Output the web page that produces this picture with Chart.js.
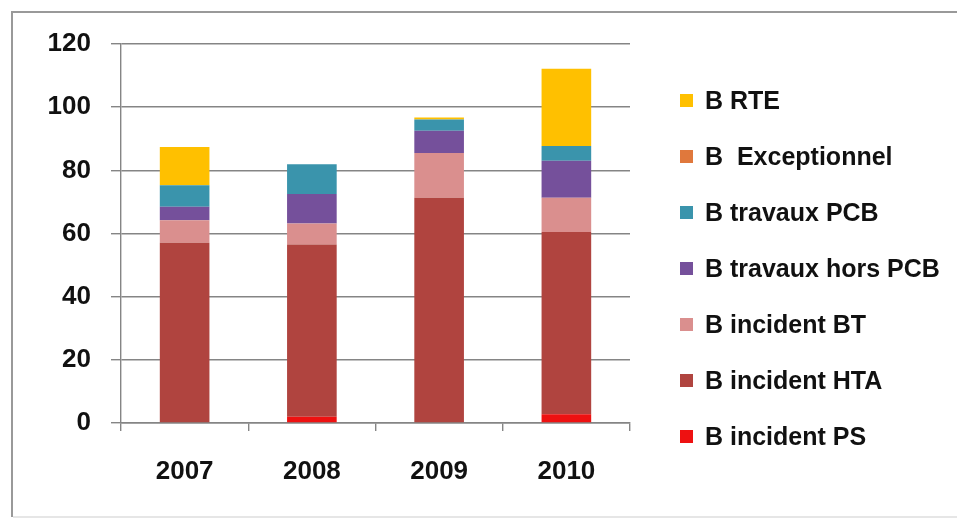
<!DOCTYPE html>
<html>
<head>
<meta charset="utf-8">
<script src="https://cdn.jsdelivr.net/npm/chart.js@4/dist/chart.umd.min.js"></script>
<style>
  html, body { margin: 0; padding: 0; background: #fff; overflow: hidden; }
  #wrap { position: relative; width: 957px; height: 519px; overflow: hidden; }
  #legend { position: absolute; left: 680px; top: 0; font-family: "Liberation Sans", Arial, sans-serif;
            font-size: 25px; font-weight: bold; color: #111; }
  .item { position: absolute; left: 0; white-space: pre; line-height: 30px; }
  .box { position: absolute; left: 0; top: 9px; width: 13px; height: 13px; }
  .lbl { position: absolute; left: 25px; top: 0; }
</style>
</head>
<body>
<div id="wrap">
  <canvas id="barChart" width="957" height="519"></canvas>
  <div id="legend"></div>
</div>
<script>
var annees = ['2007', '2008', '2009', '2010'];
var incidentPS = [0, 2.0, 0, 2.8];
var incidentHTA = [57.1, 54.5, 71.3, 57.7];
var incidentBT = [7.1, 6.7, 14.2, 10.8];
var travauxHorsPCB = [4.3, 9.3, 7.0, 11.7];
var travauxPCB = [6.8, 9.4, 3.6, 4.7];
var exceptionnel = [0, 0, 0, 0];
var rte = [12.1, 0, 0.6, 24.5];
var yTicks = [0, 20, 40, 60, 80, 100, 120];

var police = '"Liberation Sans", Arial, sans-serif';

function serie(label, data, couleur) {
    return {
        label: label,
        data: data,
        backgroundColor: couleur,
        borderWidth: 0,
        barPercentage: 0.39,
        categoryPercentage: 1
    };
}

// cadre gris autour du graphique (haut, gauche, bas)
var cadre = {
    id: 'cadre',
    afterDraw: function (chart) {
        var c = chart.ctx;
        c.save();
        c.lineWidth = 2;
        c.strokeStyle = '#999';
        c.beginPath();
        c.moveTo(957, 12);
        c.lineTo(12, 12);
        c.lineTo(12, 517);
        c.stroke();
        c.strokeStyle = '#e6e6e6';
        c.beginPath();
        c.moveTo(13, 517);
        c.lineTo(957, 517);
        c.stroke();
        c.restore();
    }
};

var ctx = document.getElementById('barChart').getContext('2d');
var barChart = new Chart(ctx, {
    type: 'bar',
    data: {
        labels: annees,
        datasets: [
            serie('B incident PS', incidentPS, '#ee1111'),
            serie('B incident HTA', incidentHTA, '#b0443f'),
            serie('B incident BT', incidentBT, '#da8f8e'),
            serie('B travaux hors PCB', travauxHorsPCB, '#75509b'),
            serie('B travaux PCB', travauxPCB, '#3a94ac'),
            serie('B  Exceptionnel', exceptionnel, '#e0783c'),
            serie('B RTE', rte, '#ffc000')
        ]
    },
    plugins: [cadre],
    options: {
        responsive: false,
        animation: false,
        layout: { padding: { top: 44, right: 327, bottom: 0, left: 0 } },
        plugins: {
            legend: { display: false },
            tooltip: { enabled: false }
        },
        scales: {
            x: {
                stacked: true,
                afterFit: function (scale) { scale.height = 96; },
                grid: {
                    drawOnChartArea: false,
                    drawTicks: true,
                    tickLength: 8,
                    color: '#858585',
                    lineWidth: 1.4
                },
                border: { color: '#858585', width: 1.4 },
                ticks: {
                    color: '#111',
                    padding: 25,
                    font: { family: police, size: 26, weight: 'bold' }
                }
            },
            y: {
                stacked: true,
                min: 0,
                max: 120,
                afterFit: function (scale) { scale.width = 121; },
                afterBuildTicks: function (scale) {
                    scale.ticks = yTicks.map(function (v) { return { value: v }; });
                },
                grid: {
                    color: '#858585',
                    lineWidth: 1.4,
                    tickLength: 10
                },
                border: { color: '#858585', width: 1.4 },
                ticks: {
                    color: '#111',
                    padding: 20,
                    font: { family: police, size: 26, weight: 'bold' }
                }
            }
        }
    }
});

// legende a droite, de haut en bas (ordre inverse des series)
var legende = document.getElementById('legend');
var ds = barChart.data.datasets.slice().reverse();
ds.forEach(function (d, i) {
    var item = document.createElement('div');
    item.className = 'item';
    item.style.top = (85 + i * 56) + 'px';
    item.innerHTML = '<span class="box" style="background:' + d.backgroundColor + '"></span>' +
        '<span class="lbl"></span>';
    item.querySelector('.lbl').textContent = d.label;
    legende.appendChild(item);
});
</script>
</body>
</html>
